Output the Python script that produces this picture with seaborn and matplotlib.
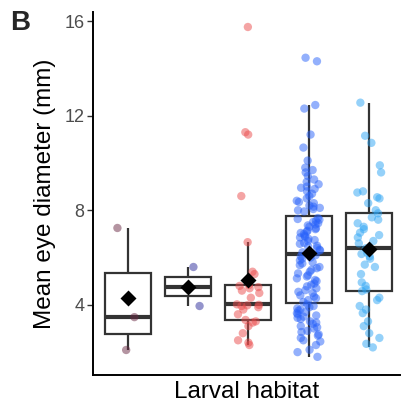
import numpy as np
import pandas as pd
import matplotlib
matplotlib.use("Agg")
import matplotlib.pyplot as plt
import seaborn as sns

categories = ["Habitat 1", "Habitat 2", "Habitat 3", "Habitat 4", "Habitat 5"]
point_colors = ["#6A2A44", "#2B2B9A", "#EB4B4B", "#2862FA", "#2DA5F5"]

habitat1 = [7.25, 3.48, 2.09]
habitat2 = [5.60, 3.95]
habitat3 = [2.3, 2.4, 2.5, 2.8, 3.1, 3.25, 3.3, 3.36, 3.6, 3.8, 3.9, 3.95, 3.98,
            4.0, 4.02, 4.3, 4.5, 4.6, 4.7, 4.75, 4.8, 4.84, 5.3, 5.4, 6.65,
            8.6, 11.2, 11.3, 15.75]
habitat4 = [14.45, 14.3, 12.45, 12.3, 11.2, 10.65, 10.1, 9.8, 9.7, 9.6, 9.45,
            9.3, 9.2, 9.1, 8.95, 8.9, 9.0, 8.8, 8.7, 8.6, 8.5, 8.4, 8.35, 8.3,
            8.2, 8.15, 8.1, 8.05, 8.0, 7.95,
            6.18, 6.22, 6.3, 6.33, 6.41, 6.47, 6.5, 6.58, 6.62, 6.7, 6.74, 6.79,
            6.85, 6.88, 6.93, 7.0, 7.04, 7.1, 7.13, 7.2, 7.24, 7.3, 7.36, 7.4,
            7.45, 7.5, 7.55, 7.6, 7.63, 7.67,
            4.12, 4.2, 4.28, 4.35, 4.4, 4.5, 4.55, 4.62, 4.7, 4.78, 4.85, 4.9,
            5.0, 5.05, 5.12, 5.2, 5.25, 5.33, 5.4, 5.48, 5.55, 5.6, 5.68, 5.75,
            5.8, 5.88, 5.95, 6.0, 6.05, 6.1,
            1.8, 2.0, 2.1, 2.3, 2.45, 2.5, 2.6, 2.7, 2.75, 2.85, 2.9, 3.0, 3.05,
            3.1, 3.2, 3.25, 3.3, 3.4, 3.45, 3.5, 3.55, 3.6, 3.65, 3.7, 3.75, 3.8,
            3.85, 3.9, 3.95, 4.02]
habitat5 = [12.55, 11.15, 10.85, 9.9, 9.6, 8.8, 8.75, 8.55, 8.5, 8.3, 8.0,
            7.87, 7.7, 7.6, 7.45, 7.3, 7.2, 7.05, 6.95, 6.85, 6.7, 6.6,
            6.39, 6.2, 6.15, 6.05, 5.95, 5.7, 5.6, 5.3, 4.95, 4.8, 4.65,
            4.58, 4.3, 4.2, 3.95, 3.8, 3.65, 3.3, 3.1, 2.8, 2.6, 2.35, 2.2]

groups = [habitat1, habitat2, habitat3, habitat4, habitat5]
df = pd.DataFrame({
    "habitat": np.concatenate([[c] * len(g) for c, g in zip(categories, groups)]),
    "eye": np.concatenate(groups),
})

sns.set_style("white")
plt.rcParams["font.family"] = ["Liberation Sans", "DejaVu Sans"]

fig = plt.figure(figsize=(4.02, 4.09), dpi=100)
ax = fig.add_axes([0.231, 0.083, 0.764, 0.888])

sns.boxplot(data=df, x="habitat", y="eye", order=categories, width=0.76,
            showfliers=False, showcaps=False, color="white", linecolor="#333333",
            linewidth=1.6, medianprops={"linewidth": 3.0, "color": "#333333"},
            ax=ax, zorder=1)

np.random.seed(7)
sns.stripplot(data=df, x="habitat", y="eye", order=categories, hue="habitat",
              hue_order=categories, palette=point_colors, jitter=0.2, size=6,
              alpha=0.5, linewidth=0, legend=False, ax=ax, zorder=2)

sns.pointplot(data=df, x="habitat", y="eye", order=categories, estimator="mean",
              errorbar=None, color="black", markers="D", linestyles="none",
              markersize=6.5, ax=ax, zorder=5)

ax.set_xlim(-0.576, 4.51)
ax.set_ylim(1.03, 16.39)
ax.set_yticks([4, 8, 12, 16])
ax.set_xticks([])
ax.set_xlabel("Larval habitat", fontsize=17.5, color="black", labelpad=4)
ax.set_ylabel("Mean eye diameter (mm)", fontsize=17.5, color="black", labelpad=6)
ax.tick_params(axis="y", labelsize=13, labelcolor="#4D4D4D", color="#333333",
               length=4, width=1, left=True, direction="out", pad=2)
for s in ["top", "right"]:
    ax.spines[s].set_visible(False)
for s in ["left", "bottom"]:
    ax.spines[s].set_color("black")
    ax.spines[s].set_linewidth(1.4)

fig.text(0.025, 0.975, "B", fontsize=20, fontweight="bold", va="top", ha="left")

fig.savefig("out.png", dpi=100)
